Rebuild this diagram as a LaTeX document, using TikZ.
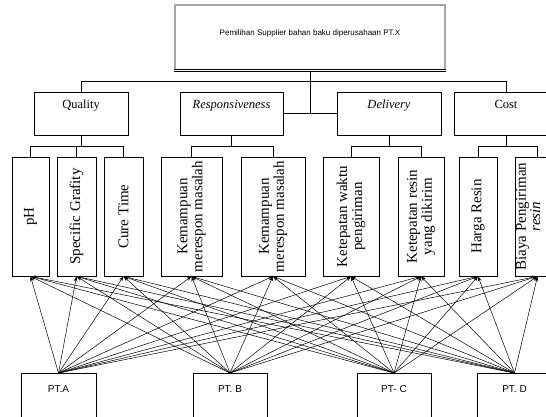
\documentclass[tikz,border=0pt]{standalone}
\usepackage{fontspec}
\setmainfont{Liberation Serif}
\newfontfamily\arialfont{Liberation Sans}
\usetikzlibrary{arrows.meta}

\tikzset{
  goalbox/.style={draw=gray!70, line width=1.2pt, minimum width=270pt, inner ysep=0pt,
    text height=31pt, text depth=34pt, font=\arialfont\fontsize{8}{10}\selectfont},
  critbox/.style={draw, line width=0.7pt, minimum height=43pt, inner ysep=4pt,
    text height=13pt, text depth=22pt, font=\fontsize{12.5}{14}\selectfont},
  subbox/.style={draw, line width=0.7pt, rotate=90, minimum width=119pt, inner sep=2pt,
    align=center, font=\fontsize{15}{15}\selectfont},
  altbox/.style={draw, line width=0.7pt, anchor=north, inner sep=0pt, text height=19pt,
    text depth=45pt, font=\arialfont\fontsize{10}{12}\selectfont},
  tree/.style={line width=0.7pt},
  link/.style={line width=0.5pt, -{Stealth[length=5pt,width=3.5pt]}},
}

\begin{document}
\begin{tikzpicture}[x=1pt,y=1pt]
  \useasboundingbox (0,0) rectangle (546,-417);
  \clip (0,0) rectangle (546,-417);

  % goal
  \node[goalbox] (goal) at (310,-37.5) {Pemilihan Supplier bahan baku diperusahaan PT.X};
  \draw[line width=0.6pt, double, double distance=1.5pt] (goal.south west) -- (goal.south east);

  % criteria
  \node[critbox, minimum width=94pt]  (quality) at (81,-113.5)    {Quality};
  \node[critbox, minimum width=103pt] (resp)    at (231.5,-113.5) {\textit{Responsiveness}};
  \node[critbox, minimum width=104pt] (deliv)   at (389,-113.5)   {\textit{Delivery}};
  \node[critbox, minimum width=104pt] (cost)    at (506,-113.5)   {Cost};

  % sub criteria
  \node[subbox, minimum height=37pt] (ph)  at (30.5,-216.5)  {pH};
  \node[subbox, minimum height=39pt] (sg)  at (76.5,-216.5)  {Specific Grafity};
  \node[subbox, minimum height=39pt] (ct)  at (123.5,-216.5) {Cure Time};
  \node[subbox, minimum height=61pt] (km1) at (191.5,-216.5) {Kemampuan\\merespon masalah};
  \node[subbox, minimum height=64pt] (km2) at (273,-216.5)   {Kemampuan\\merespon masalah};
  \node[subbox, minimum height=56pt] (kw)  at (351,-216.5)   {Ketepatan waktu\\pengiriman};
  \node[subbox, minimum height=46pt] (kr)  at (421,-216.5)   {Ketepatan resin\\yang dikirim};
  \node[subbox, minimum height=38pt] (hr)  at (478,-216.5)   {Harga Resin};
  \node[subbox, font=\fontsize{15}{9}\selectfont, text height=23pt, text depth=18pt]
    (bp) at (537.5,-216.5) {Biaya Pengiriman\\\textit{resin}};

  % alternatives
  \node[altbox, minimum width=75pt] (pta) at (58.5,-373) {PT.A};
  \node[altbox, minimum width=74pt] (ptb) at (230,-373)  {PT. B};
  \node[altbox, minimum width=74pt] (ptc) at (394,-373)  {PT- C};
  \node[altbox, minimum width=75pt] (ptd) at (514.5,-373) {PT. D};

  % hierarchy
  \draw[tree] (goal.south) -- (310,-113.5);
  \draw[tree] (resp.east) -- (deliv.west);
  \draw[tree] (quality.north) -- ++(0,10) -| (cost.north);
  \draw[tree] (quality.south) -- ++(0,-12);
  \draw[tree] (ph.east) -- ++(0,10) -| (ct.east);
  \draw[tree] (sg.east) -- ++(0,10);
  \draw[tree] (resp.south) -- ++(0,-12);
  \draw[tree] (km1.east) -- ++(0,10) -| (km2.east);
  \draw[tree] (deliv.south) -- ++(0,-12);
  \draw[tree] (kw.east) -- ++(0,10) -| (kr.east);
  \draw[tree] (cost.south) -- ++(0,-12);
  \draw[tree] (hr.east) -- ++(0,10) -| (bp.east);

  % every alternative to every sub criterion
  \foreach \alt in {pta,ptb,ptc,ptd}
    \foreach \sub in {ph,sg,ct,km1,km2,kw,kr,hr,bp}
      \draw[link] (\alt.north) -- (\sub.west);
\end{tikzpicture}
\end{document}
